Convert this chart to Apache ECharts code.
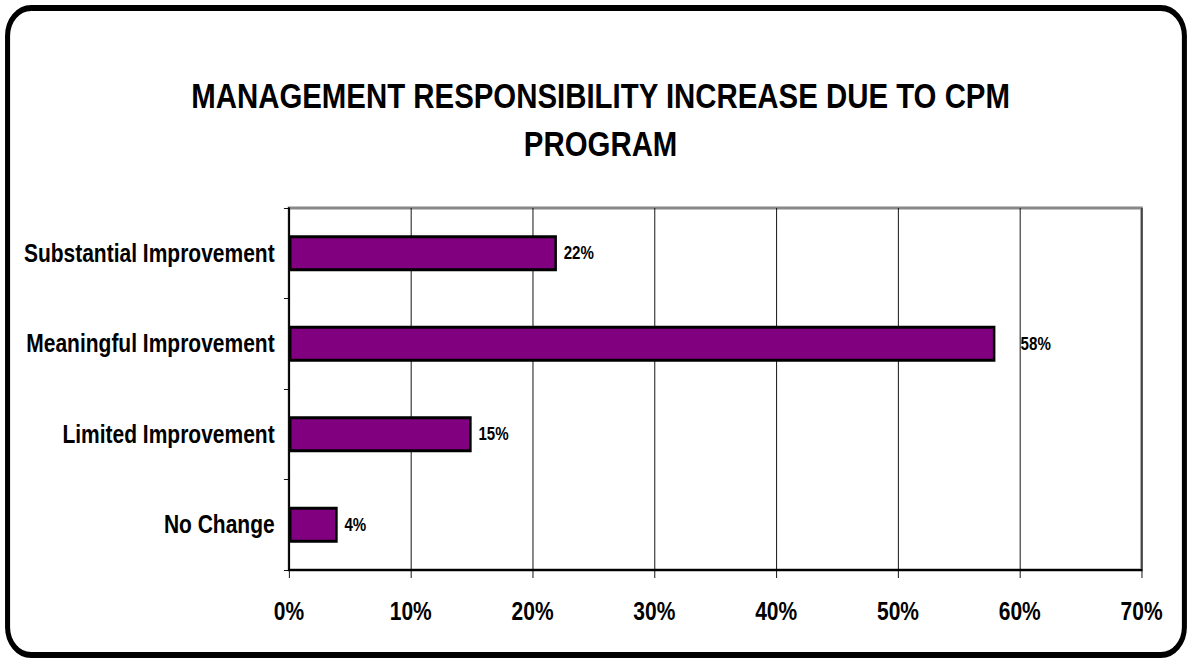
<!DOCTYPE html>
<html>
<head>
<meta charset="utf-8">
<title>Management Responsibility Increase</title>
<script src="https://cdn.jsdelivr.net/npm/echarts@6/dist/echarts.min.js"></script>
<style>
  html, body { margin: 0; padding: 0; background: #fff; overflow: hidden; }
  #frame { width: 1189px; height: 660px; overflow: hidden; position: relative; }
  /* the chart is laid out wide and then narrowed, giving the condensed lettering */
  #chart { width: 1415px; height: 660px; transform: scaleX(0.84); transform-origin: 0 0; }
</style>
</head>
<body>
<div id="frame"><div id="chart"></div></div>
<script>
// Survey result: share of respondents per response category
const titleText = 'MANAGEMENT RESPONSIBILITY INCREASE DUE TO CPM\nPROGRAM';
const categories = ['Substantial Improvement', 'Meaningful Improvement', 'Limited Improvement', 'No Change'];
const shares = [22, 58, 15, 4];
const xTicks = [0, 10, 20, 30, 40, 50, 60, 70];

const FONT = "'Liberation Sans', Arial, sans-serif";

// the long bar's label sits a little further from its end
const barData = shares.map((v, i) =>
  i === 1 ? { value: v, label: { distance: 30 } } : v
);

const chart = echarts.init(document.getElementById('chart'), null, { renderer: 'svg' });
chart.setOption({
  backgroundColor: '#fff',
  animation: false,
  title: {
    text: titleText,
    left: 715,
    top: 72,
    padding: 0,
    textAlign: 'center',
    textStyle: {
      fontFamily: FONT,
      fontSize: 35,
      fontWeight: 'bold',
      color: '#000',
      lineHeight: 48
    }
  },
  graphic: [{
    type: 'rect',
    shape: { x: 9, y: 8, width: 1401, height: 647, r: 28 },
    style: { fill: 'none', stroke: '#000', lineWidth: 6 },
    silent: true
  }],
  grid: {
    left: 344, right: 56, top: 208, bottom: 90,
    show: true,
    borderColor: '#888',
    borderWidth: 3,
    containLabel: false,
    outerBoundsMode: 'none'
  },
  xAxis: {
    type: 'value',
    min: xTicks[0],
    max: xTicks[xTicks.length - 1],
    interval: xTicks[1] - xTicks[0],
    axisLine: { show: true, lineStyle: { color: '#000', width: 2 } },
    axisTick: { show: true, length: 8, lineStyle: { color: '#000', width: 1 } },
    splitLine: { show: true, lineStyle: { color: '#000', width: 1 } },
    axisLabel: {
      formatter: '{value}%',
      fontFamily: FONT,
      fontSize: 25,
      fontWeight: 'bold',
      color: '#000',
      margin: 29
    }
  },
  yAxis: {
    type: 'category',
    data: categories,
    inverse: true,
    axisLine: { show: true, lineStyle: { color: '#000', width: 2 } },
    axisTick: { show: true, length: 6, lineStyle: { color: '#000', width: 1 } },
    splitLine: { show: false },
    axisLabel: {
      fontFamily: FONT,
      fontSize: 25,
      fontWeight: 'bold',
      color: '#000',
      margin: 17
    }
  },
  series: [{
    type: 'bar',
    data: barData,
    barWidth: 36,
    itemStyle: { color: '#800080', borderColor: '#000', borderWidth: 3 },
    label: {
      show: true,
      position: 'right',
      distance: 8,
      formatter: '{c}%',
      fontFamily: FONT,
      fontSize: 18,
      fontWeight: 'bold',
      color: '#000'
    }
  }]
});
</script>
</body>
</html>
